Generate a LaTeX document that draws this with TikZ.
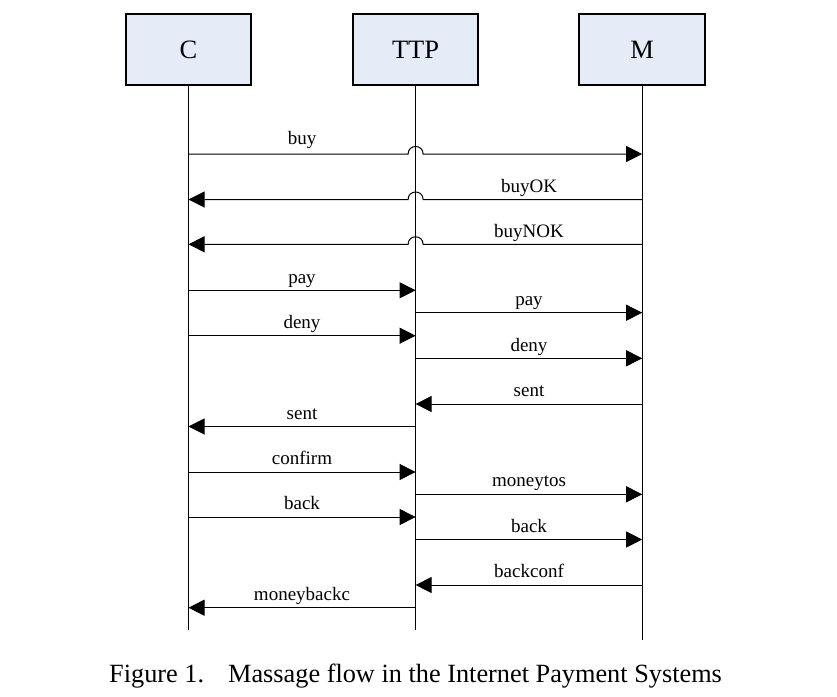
\documentclass[tikz,border=0pt]{standalone}
\usepackage{fontspec}
\setmainfont{Liberation Serif}
\usetikzlibrary{arrows.meta}
\definecolor{boxfill}{RGB}{230,236,247}
\begin{document}
\begin{tikzpicture}[x=1pt,y=-1pt,
  actor/.style={draw=black,line width=2pt,fill=boxfill,minimum width=125.7pt,minimum height=70.7pt,inner sep=0pt,font=\fontsize{26.5}{30}\selectfont},
  life/.style={line width=1pt},
  msg/.style={line width=1pt,-{Triangle[length=16pt,width=16pt]}},
  lbl/.style={anchor=base,inner sep=0pt,font=\fontsize{19}{21}\selectfont}]
\useasboundingbox (0,0) rectangle (837,696);
\def\xC{188.5}
\def\xT{415.6}
\def\xM{642.2}
\def\lC{302}
\def\lM{529}
% actors
\node[actor] (C) at (\xC,49.7) {C};
\node[actor] (T) at (\xT,49.7) {TTP};
\node[actor] (M) at (\xM,49.7) {M};
% lifelines
\coordinate (Ce) at (\xC,630);
\coordinate (Te) at (\xT,630);
\coordinate (Me) at (\xM,640);
\draw[life] (C.south) -- (Ce);
\draw[life] (T.south) -- (Te);
\draw[life] (M.south) -- (Me);
% messages with jumps over the TTP lifeline
\coordinate (a1) at (\xC,154);   \coordinate (b1) at (\xM,154);
\draw[msg] (a1) -- (\xT-7.5,154) .. controls +(0,-10) and +(0,-10) .. (\xT+7.5,154) -- (b1);
\node[lbl] (l1) at (\lC,144) {buy};
\coordinate (a2) at (\xM,199.5); \coordinate (b2) at (\xC,199.5);
\draw[msg] (a2) -- (\xT+7.5,199.5) .. controls +(0,-10) and +(0,-10) .. (\xT-7.5,199.5) -- (b2);
\node[lbl] (l2) at (\lM,192) {buyOK};
\coordinate (a3) at (\xM,244.3); \coordinate (b3) at (\xC,244.3);
\draw[msg] (a3) -- (\xT+7.5,244.3) .. controls +(0,-10) and +(0,-10) .. (\xT-7.5,244.3) -- (b3);
\node[lbl] (l3) at (\lM,237) {buyNOK};
% plain messages
\coordinate (a4) at (\xC,290.3); \coordinate (b4) at (\xT,290.3);
\draw[msg] (a4) -- (b4); \node[lbl] (l4) at (\lC,283) {pay};
\coordinate (a5) at (\xT,312.7); \coordinate (b5) at (\xM,312.7);
\draw[msg] (a5) -- (b5); \node[lbl] (l5) at (\lM,305.5) {pay};
\coordinate (a6) at (\xC,335.7); \coordinate (b6) at (\xT,335.7);
\draw[msg] (a6) -- (b6); \node[lbl] (l6) at (\lC,328.3) {deny};
\coordinate (a7) at (\xT,358.3); \coordinate (b7) at (\xM,358.3);
\draw[msg] (a7) -- (b7); \node[lbl] (l7) at (\lM,351) {deny};
\coordinate (a8) at (\xM,404); \coordinate (b8) at (\xT,404);
\draw[msg] (a8) -- (b8); \node[lbl] (l8) at (\lM,396.5) {sent};
\coordinate (a9) at (\xT,426.5); \coordinate (b9) at (\xC,426.5);
\draw[msg] (a9) -- (b9); \node[lbl] (l9) at (\lC,419) {sent};
\coordinate (a10) at (\xC,472); \coordinate (b10) at (\xT,472);
\draw[msg] (a10) -- (b10); \node[lbl] (l10) at (\lC,464.3) {confirm};
\coordinate (a11) at (\xT,494.3); \coordinate (b11) at (\xM,494.3);
\draw[msg] (a11) -- (b11); \node[lbl] (l11) at (\lM,486.6) {moneytos};
\coordinate (a12) at (\xC,517); \coordinate (b12) at (\xT,517);
\draw[msg] (a12) -- (b12); \node[lbl] (l12) at (\lC,509.3) {back};
\coordinate (a13) at (\xT,539.5); \coordinate (b13) at (\xM,539.5);
\draw[msg] (a13) -- (b13); \node[lbl] (l13) at (\lM,532) {back};
\coordinate (a14) at (\xM,585); \coordinate (b14) at (\xT,585);
\draw[msg] (a14) -- (b14); \node[lbl] (l14) at (\lM,577.6) {backconf};
\coordinate (a15) at (\xT,607.7); \coordinate (b15) at (\xC,607.7);
\draw[msg] (a15) -- (b15); \node[lbl] (l15) at (\lC,600.1) {moneybackc};
% caption
\node[anchor=base west,inner sep=0pt,font=\fontsize{26.3}{30}\selectfont] (cap) at (109,682) {Figure 1.\hspace{24pt}Massage flow in the Internet Payment Systems};
\end{tikzpicture}
\end{document}
